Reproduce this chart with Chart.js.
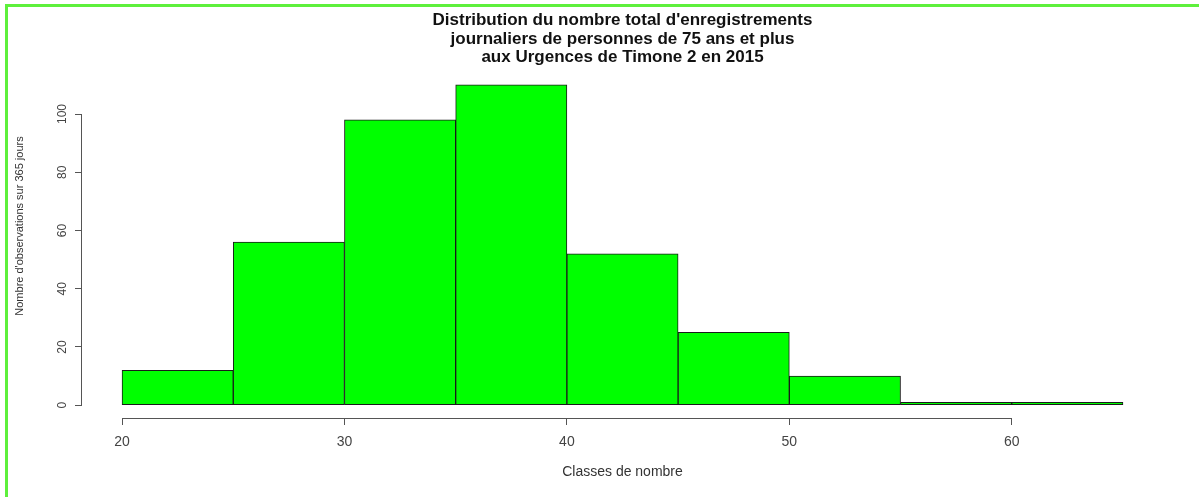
<!DOCTYPE html>
<html>
<head>
<meta charset="utf-8">
<script src="https://cdn.jsdelivr.net/npm/chart.js@4/dist/chart.umd.min.js"></script>
<style>
    html, body { margin: 0; padding: 0; background: #fff; overflow: hidden; }
    #wrap { position: relative; width: 1199px; height: 497px; }
    #chart { position: absolute; left: 0; top: 0; }
    #frame {
        position: absolute; left: 5px; top: 4px; width: 1200px; height: 500px;
        border-left: 3px solid #5ef03c; border-top: 3px solid #5ef03c;
        pointer-events: none;
    }
</style>
</head>
<body>
<div id="wrap">
    <canvas id="chart" width="1199" height="497"></canvas>
    <div id="frame"></div>
</div>
<script>
// Histogram classes (breaks) and daily counts
var breaks = [20, 25, 30, 35, 40, 45, 50, 55, 60, 65];
var counts = [12, 56, 98, 110, 52, 25, 10, 1, 1];
var xTicks = [20, 30, 40, 50, 60];
var yTicks = [0, 20, 40, 60, 80, 100];

var titleLines = [
    "Distribution du nombre total d'enregistrements",
    "journaliers de personnes de 75 ans et plus",
    "aux Urgences de Timone 2 en 2015"
];
var xTitle = 'Classes de nombre';
var yTitle = "Nombre d'observations sur 365 jours";

var fontFamily = 'Liberation Sans, Arial, sans-serif';

// bar points at the middle of each class
var bars = counts.map(function(c, i) {
    return { x: (breaks[i] + breaks[i + 1]) / 2, y: c };
});

// R style axes: line only from first tick to last tick, plus the y title
var rAxes = {
    id: 'rAxes',
    afterDraw: function(chart) {
        var ctx = chart.ctx;
        var xs = chart.scales.x;
        var ys = chart.scales.y;
        var area = chart.chartArea;
        ctx.save();
        ctx.strokeStyle = '#555';
        ctx.lineWidth = 1;
        ctx.beginPath();
        var yb = Math.round(area.bottom) + 0.5;
        ctx.moveTo(xs.getPixelForValue(xTicks[0]), yb);
        ctx.lineTo(xs.getPixelForValue(xTicks[xTicks.length - 1]), yb);
        var xl = Math.round(area.left) - 0.5;
        ctx.moveTo(xl, ys.getPixelForValue(yTicks[0]));
        ctx.lineTo(xl, ys.getPixelForValue(yTicks[yTicks.length - 1]));
        ctx.stroke();

        // y axis title, R puts it a bit higher than the plot middle
        ctx.translate(20, 226);
        ctx.rotate(-Math.PI / 2);
        ctx.fillStyle = '#333';
        ctx.font = '11px ' + fontFamily;
        ctx.textAlign = 'center';
        ctx.textBaseline = 'middle';
        ctx.fillText(yTitle, 0, 0);
        ctx.restore();
    }
};

var ctx = document.getElementById('chart').getContext('2d');
var histChart = new Chart(ctx, {
    type: 'bar',
    data: {
        datasets: [{
            data: bars,
            backgroundColor: '#00ff00',
            borderColor: '#1a1a1a',
            borderWidth: 1,
            borderSkipped: false,
            barPercentage: 1,
            categoryPercentage: 1
        }]
    },
    options: {
        responsive: false,
        animation: false,
        layout: { padding: { top: 11, left: 8, right: 36, bottom: 0 } },
        plugins: {
            legend: { display: false },
            tooltip: { enabled: false },
            title: {
                display: true,
                fullSize: false,
                text: titleLines,
                color: '#111',
                font: { family: fontFamily, size: 17, weight: 'bold', lineHeight: 1.1 },
                padding: { top: 0, bottom: 5 }
            }
        },
        scales: {
            x: {
                type: 'linear',
                offset: false,
                min: 18.2,
                max: 66.8,
                afterBuildTicks: function(scale) {
                    scale.ticks = xTicks.map(function(v) { return { value: v }; });
                },
                afterFit: function(scale) { scale.height = 79; },
                grid: { offset: false, drawOnChartArea: false, drawTicks: true, tickLength: 7, color: '#555' },
                border: { display: false },
                ticks: { color: '#444', font: { family: fontFamily, size: 14 }, padding: 9, maxRotation: 0, autoSkip: false },
                title: {
                    display: true, text: xTitle, color: '#333',
                    font: { family: fontFamily, size: 14 },
                    padding: { top: 0, bottom: 16 }
                }
            },
            y: {
                min: -4.4,
                max: 114.4,
                afterBuildTicks: function(scale) {
                    scale.ticks = yTicks.map(function(v) { return { value: v }; });
                },
                afterFit: function(scale) { scale.width = 74; },
                grid: { drawOnChartArea: false, drawTicks: true, tickLength: 7, color: '#555' },
                border: { display: false },
                ticks: { color: '#444', font: { family: fontFamily, size: 12 }, padding: 2, minRotation: 90, maxRotation: 90, crossAlign: 'center' },
                title: { display: false }
            }
        }
    },
    plugins: [rAxes]
});
</script>
</body>
</html>
